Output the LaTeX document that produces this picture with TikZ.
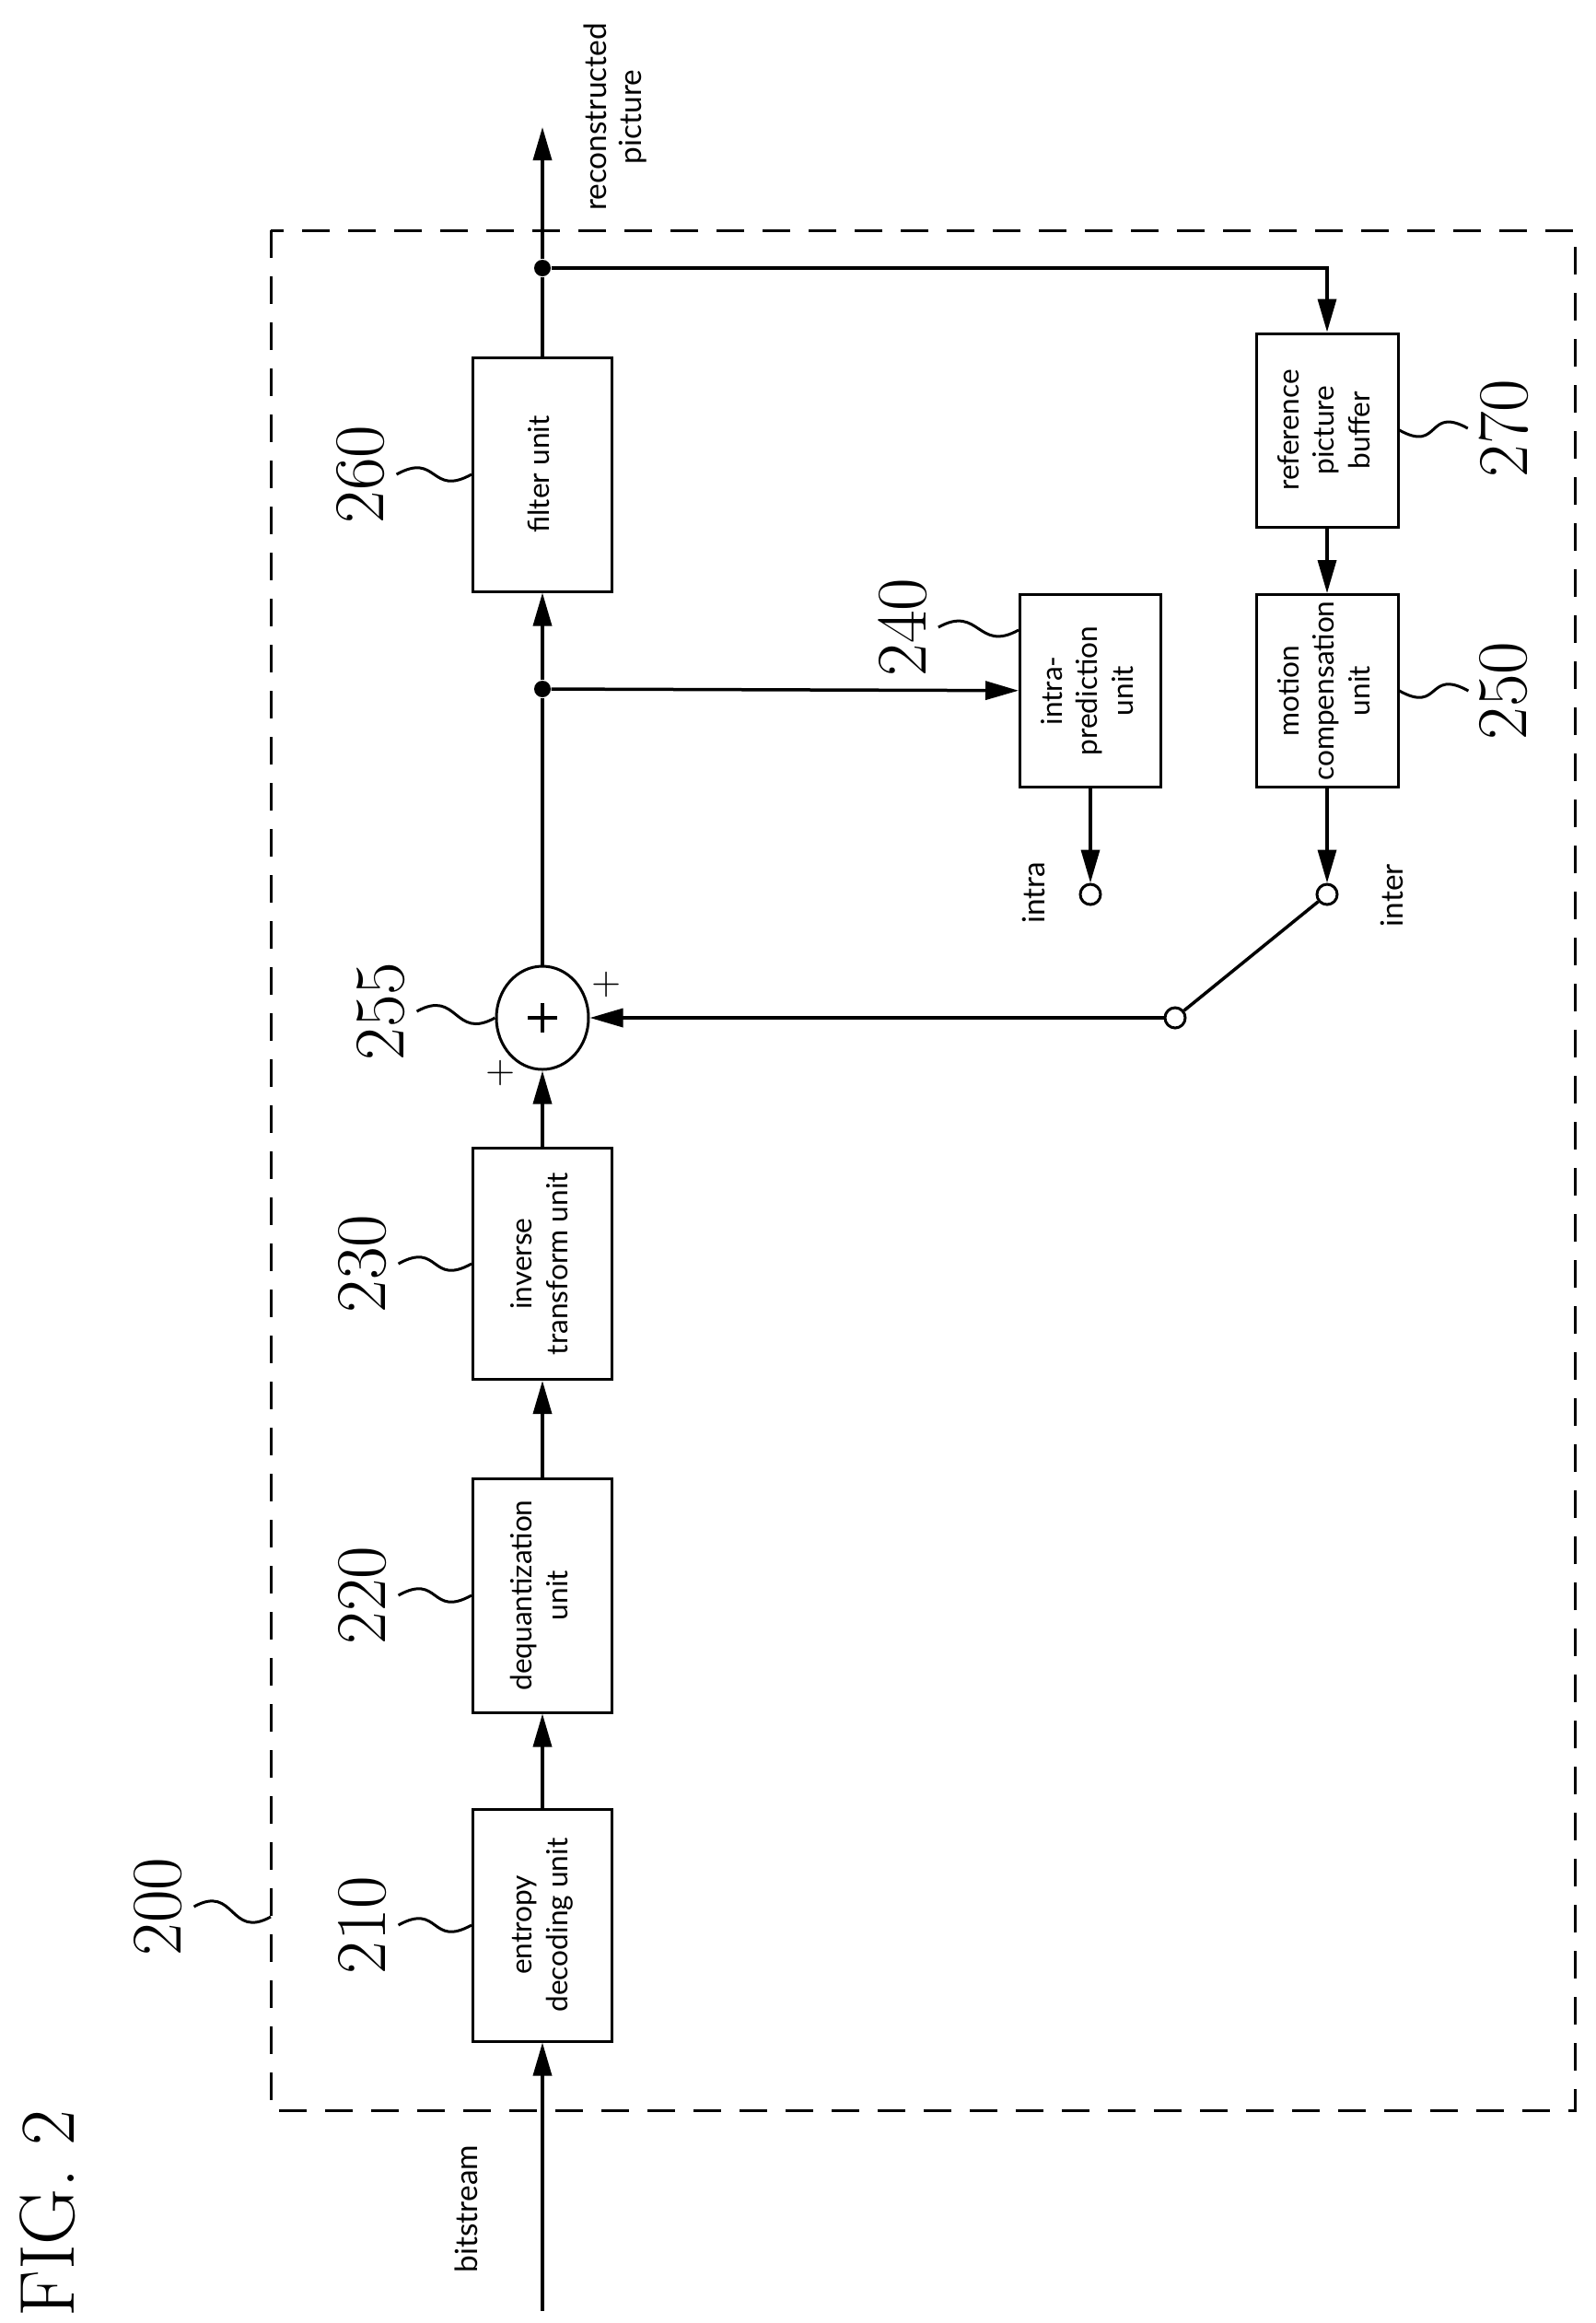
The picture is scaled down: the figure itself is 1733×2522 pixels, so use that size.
\documentclass[tikz,border=0pt]{standalone}
\usepackage{fontspec}
\setsansfont{Lato}
\usetikzlibrary{arrows.meta,positioning,shapes.geometric}

\tikzset{
  unit/.style={draw, line width=0.3mm, inner sep=0pt, font=\sffamily\fontsize{9}{11}\selectfont},
  refnum/.style={font=\fontsize{22}{22}\selectfont, rotate=90},
  sig/.style={line width=0.35mm, -{Triangle[length=3.6mm,width=2mm]}},
  wire/.style={line width=0.35mm},
  squig/.style={line width=0.3mm},
  port/.style={circle, draw, line width=0.3mm, minimum size=2.2mm, inner sep=0pt},
  joint/.style={circle, fill, minimum size=1.8mm, inner sep=0pt},
  tag/.style={font=\sffamily\fontsize{9.5}{11}\selectfont, rotate=90}
}
\newcommand{\rot}[1]{\rotatebox{90}{\begin{tabular}{@{}c@{}}#1\end{tabular}}}

\begin{document}
\begin{tikzpicture}[x=0.1mm, y=-0.1mm]
  \useasboundingbox (0,0) rectangle (1733,2522);

  % frame 200
  \draw[line width=0.3mm, dash pattern=on 3mm off 2mm] (294,250) rectangle (1710,2291);

  % units
  \node[unit, minimum width=15.1mm, minimum height=25.2mm] (entropy) at (589,2090) {\rot{entropy\\decoding unit}};
  \node[unit, minimum width=15.1mm, minimum height=25.4mm] (dequant) at (589,1732) {\rot{dequantization\\unit}};
  \node[unit, minimum width=15.1mm, minimum height=25.1mm] (invtrans) at (589,1372) {\rot{inverse\\transform unit}};
  \node[draw, line width=0.3mm, ellipse, minimum width=10mm, minimum height=11.2mm, inner sep=0pt] (adder) at (589,1105) {};
  \node[unit, minimum width=15.1mm, minimum height=25.4mm] (filter) at (589,515) {\rot{filter unit}};
  \node[unit, minimum width=15.3mm, minimum height=20.9mm] (intra) at (1184,750) {\rot{intra-\\prediction\\unit}};
  \node[unit, minimum width=15.4mm, minimum height=21mm] (refbuf) at (1441,467) {\rot{reference\\picture\\buffer}};
  \node[unit, minimum width=15.4mm, minimum height=20.9mm] (motion) at (1441,750) {\rot{motion\\compensation\\unit}};

  % adder sign
  \draw[line width=0.4mm] (adder.center) ++(-16,0) -- ++(32,0) (adder.center) ++(0,-16) -- ++(0,32);
  \node[font=\fontsize{12}{12}\selectfont] (plusin) at (544,1165) {+};
  \node[font=\fontsize{12}{12}\selectfont] (plusref) at (659,1069) {+};

  % junctions and ports
  \node[joint] (jtop) at (589,291) {};
  \node[joint] (jmid) at (589,748) {};
  \node[port] (pintra) at (1184,971) {};
  \node[port] (pinter) at (1441,971) {};
  \node[port] (pivot) at (1276,1105) {};
  \coordinate (bsin) at (589,2509);
  \coordinate (recout) at (589,138);
  \coordinate (bend) at (1441,291);

  % main path
  \draw[sig] (bsin) -- (entropy.south);
  \draw[sig] (entropy) -- (dequant);
  \draw[sig] (dequant) -- (invtrans);
  \draw[sig] (invtrans) -- (adder);
  \draw[wire] (adder) -- (jmid);
  \draw[sig] (jmid) -- (filter);
  \draw[wire] (filter) -- (jtop);
  \draw[sig] (jtop) -- (recout);

  % prediction paths
  \draw[sig] (jmid) -- (intra);
  \draw[sig] (jtop) -- (bend) -- (refbuf);
  \draw[sig] (refbuf) -- (motion);
  \draw[sig] (intra) -- (pintra);
  \draw[sig] (motion) -- (pinter);
  \draw[wire] (pivot) -- (pinter);
  \draw[sig] (pivot) -- (adder);

  % texts
  \node[tag, align=center] (reclbl) at (668,127) {reconstructed\\picture};
  \node[tag] (bslbl) at (506,2398) {bitstream};
  \node[tag] (intralbl) at (1122,969) {intra};
  \node[tag] (interlbl) at (1511,972) {inter};
  \node[font=\fontsize{24}{24}\selectfont, rotate=90] (fig) at (52,2403) {FIG. 2};

  % reference numerals
  \node[refnum] (n200) at (172,2070) {200};
  \node[refnum] (n210) at (394,2090) {210};
  \node[refnum] (n220) at (394,1732) {220};
  \node[refnum] (n230) at (394,1372) {230};
  \node[refnum] (n255) at (414,1098) {255};
  \node[refnum] (n260) at (392,515) {260};
  \node[refnum] (n240) at (980,681) {240};
  \node[refnum] (n270) at (1633,465) {270};
  \node[refnum] (n250) at (1633,750) {250};

  \draw[squig] (n200.south) .. controls +(45,-25) and +(-45,25) .. (294,2081);
  \draw[squig] (n210.south) .. controls +(45,-25) and +(-45,25) .. (entropy.west);
  \draw[squig] (n220.south) .. controls +(45,-25) and +(-45,25) .. (dequant.west);
  \draw[squig] (n230.south) .. controls +(45,-25) and +(-45,25) .. (invtrans.west);
  \draw[squig] (n255.south) .. controls +(45,-25) and +(-45,25) .. (adder.west);
  \draw[squig] (n260.south) .. controls +(45,-25) and +(-45,25) .. (filter.west);
  \draw[squig] (n240.south) .. controls +(45,-25) and +(-45,25) .. ([yshift=-4mm]intra.north west);
  \draw[squig] (n270.north) .. controls +(-45,-25) and +(45,25) .. (refbuf.east);
  \draw[squig] (n250.north) .. controls +(-45,-25) and +(45,25) .. (motion.east);
\end{tikzpicture}
\end{document}
